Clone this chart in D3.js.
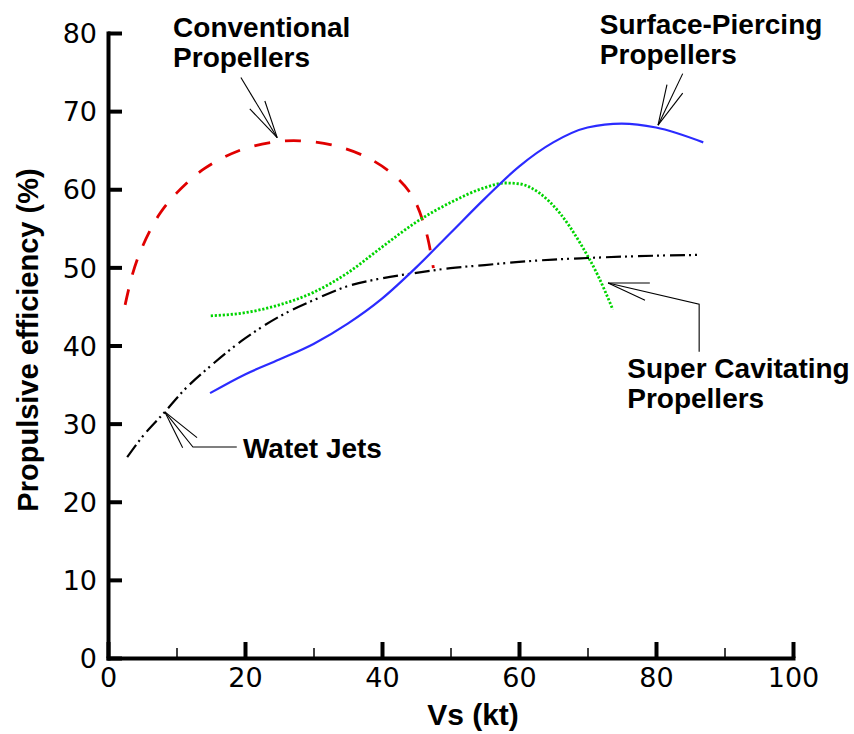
<!DOCTYPE html>
<html>
<head>
<meta charset="utf-8">
<script src="https://cdn.jsdelivr.net/npm/d3@7"></script>
<style>
  html, body { margin: 0; padding: 0; background: #fff; }
  svg { display: block; }
</style>
</head>
<body>
<svg id="chart" width="854" height="734"></svg>
<script>
// ---------- data ----------
const xTicks = [0, 20, 40, 60, 80, 100];
const xMinorTicks = [10, 30, 50, 70, 90];
const yTicks = [0, 10, 20, 30, 40, 50, 60, 70, 80];

// Conventional Propellers (red dashed)
const convV = [2.5, 3.6, 5, 7.5, 10, 14, 19, 24, 28, 33, 38, 42, 44.5, 46.3, 47.2, 47.5];
const convE = [45.2, 49.2, 52.6, 56.8, 59.5, 62.6, 64.9, 66.0, 66.2, 65.6, 64.0, 61.6, 59.0, 55.0, 51.5, 49.9];

// Super Cavitating Propellers (green dotted)
const scV = [15, 20, 25, 30, 35, 40, 45, 50, 55, 58, 60, 63, 66, 69, 71.5, 73.7];
const scE = [43.8, 44.2, 45.2, 46.8, 49.3, 52.6, 55.8, 58.3, 60.2, 60.8, 60.7, 59.5, 56.9, 53.0, 49.0, 44.6];

// Surface-Piercing Propellers (blue solid)
const spV = [14.9, 20, 25, 30, 35, 40, 45, 50, 55, 60, 65, 70, 75, 80, 86.9];
const spE = [33.9, 36.3, 38.2, 40.2, 42.8, 46.0, 50.0, 54.4, 58.8, 62.9, 66.0, 67.9, 68.4, 67.9, 66.0];

// Water Jets (black dash-dot-dot)
const wjV = [2.8, 5, 8.3, 11, 15, 20, 25, 30, 35, 40, 45, 50, 55, 60, 65, 70, 80, 86.7];
const wjE = [25.7, 28.3, 31.5, 34.2, 37.4, 40.9, 43.7, 45.8, 47.6, 48.6, 49.3, 49.9, 50.3, 50.7, 51.0, 51.2, 51.5, 51.6];

// Annotation labels and leader lines (data units)
const labelNames = [["Conventional", "Propellers"], ["Surface-Piercing", "Propellers"], ["Super Cavitating", "Propellers"], ["Watet Jets"]];
const labelAnchors = [[9.5, 79.5], [71.8, 79.9], [75.8, 35.9], [19.7, 25.6]];
const leaderPaths = [
  [[19.4, 74.3], [24.7, 66.6]],
  [[83.9, 74.8], [80.3, 68.2]],
  [[86.3, 39.2], [86.3, 45.3], [73.0, 48.0]],
  [[18.8, 27.0], [12.4, 27.0], [8.3, 31.5]]
];
const leaderBarbs = [
  [[[24.7, 66.6], [20.7, 70.3]], [[24.7, 66.6], [22.9, 71.3]]],
  [[[80.3, 68.2], [81.6, 73.4]], [[80.3, 68.2], [83.9, 72.3]]],
  [[[73.0, 48.0], [79.1, 48.0]], [[73.0, 48.0], [78.4, 45.8]]],
  [[[8.3, 31.5], [13.0, 28.2]], [[8.3, 31.5], [10.9, 26.9]]]
];

// ---------- drawing ----------
const svg = d3.select("#chart");
const x = d3.scaleLinear().domain([0, 100]).range([108, 793]);
const y = d3.scaleLinear().domain([0, 80]).range([658, 33]);

const zip = (a, b) => a.map((v, i) => [v, b[i]]);
const smooth = d3.line().x(d => x(d[0])).y(d => y(d[1])).curve(d3.curveMonotoneX);
const round = d3.line().x(d => x(d[0])).y(d => y(d[1])).curve(d3.curveCatmullRom.alpha(0.5));
const straight = d3.line().x(d => x(d[0])).y(d => y(d[1]));

const series = [
  { v: convV, e: convE, color: "#e00000", width: 2.8, dash: "16,15", gen: round },
  { v: scV, e: scE, color: "#00d400", width: 2.8, dash: "2.2,1.8", gen: smooth },
  { v: wjV, e: wjE, color: "#000000", width: 2.2, dash: "15,4,2,4,2,5", gen: smooth },
  { v: spV, e: spE, color: "#2b2bff", width: 2.2, dash: null, gen: smooth }
];
series.forEach(s => {
  svg.append("path")
    .attr("d", s.gen(zip(s.v, s.e)))
    .attr("fill", "none")
    .attr("stroke", s.color)
    .attr("stroke-width", s.width)
    .attr("stroke-dasharray", s.dash);
});

// leaders
const lead = svg.append("g").attr("fill", "none").attr("stroke", "#000").attr("stroke-width", 1.1);
leaderPaths.forEach(p => lead.append("path").attr("d", straight(p)));
leaderBarbs.forEach(bs => bs.forEach(b => lead.append("path").attr("d", straight(b))));

// labels
const lab = svg.append("g")
  .attr("font-family", "'Liberation Sans', Arial, sans-serif")
  .attr("font-weight", "bold")
  .attr("font-size", 28)
  .attr("fill", "#000");
labelNames.forEach((lines, i) => {
  const t = lab.append("text").attr("x", x(labelAnchors[i][0])).attr("y", y(labelAnchors[i][1]));
  lines.forEach((ln, j) => {
    t.append("tspan").attr("x", x(labelAnchors[i][0])).attr("dy", j === 0 ? 0 : 30).text(ln);
  });
});

// axes
const tickFont = "'DejaVu Sans', sans-serif";
const gx = svg.append("g").attr("transform", `translate(0,${y(0)})`)
  .call(d3.axisBottom(x).tickValues(xTicks).tickSize(-16).tickSizeOuter(0).tickPadding(10));
const gxm = svg.append("g").attr("transform", `translate(0,${y(0)})`)
  .call(d3.axisBottom(x).tickValues(xMinorTicks).tickSize(-10).tickSizeOuter(0).tickFormat(""));
const gy = svg.append("g").attr("transform", `translate(${x(0)},0)`)
  .call(d3.axisLeft(y).tickValues(yTicks).tickSize(-14).tickSizeOuter(0).tickPadding(11));

[gx, gy].forEach(g => {
  g.select(".domain").attr("stroke", "#000").attr("stroke-width", 4).attr("stroke-linecap", "square");
  g.selectAll(".tick line").attr("stroke", "#000").attr("stroke-width", 4);
  g.selectAll(".tick text").attr("font-family", tickFont).attr("font-size", 27).attr("fill", "#000");
});
gxm.select(".domain").remove();
gxm.selectAll(".tick line").attr("stroke", "#000").attr("stroke-width", 1.5);
gy.selectAll(".tick text").attr("dy", "0.36em");

// axis titles
svg.append("text")
  .attr("x", 473).attr("y", 725)
  .attr("text-anchor", "middle")
  .attr("font-family", "'Liberation Sans', Arial, sans-serif")
  .attr("font-weight", "bold").attr("font-size", 30)
  .text("Vs (kt)");
svg.append("text")
  .attr("transform", "translate(38,340) rotate(-90)")
  .attr("text-anchor", "middle")
  .attr("font-family", "'Liberation Sans', Arial, sans-serif")
  .attr("font-weight", "bold").attr("font-size", 29)
  .text("Propulsive efficiency (%)");
</script>
</body>
</html>
